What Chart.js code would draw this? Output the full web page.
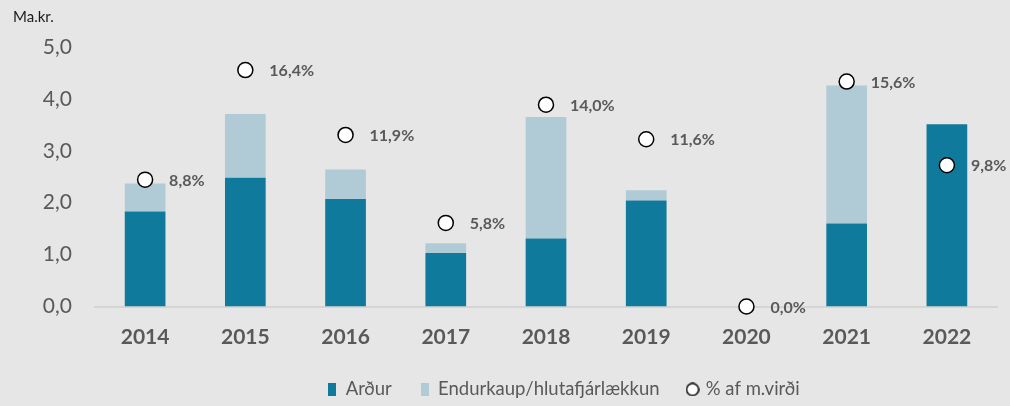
<!DOCTYPE html>
<html>
<head>
<meta charset="utf-8">
<script src="https://cdn.jsdelivr.net/npm/chart.js@4/dist/chart.umd.min.js"></script>
<style>
    body { margin: 0; background: #e6e6e6; }
    #wrap { width: 1010px; height: 406px; position: relative; }
</style>
</head>
<body>
<div id="wrap"><canvas id="myChart"></canvas></div>
<script>
// gögn lesin af myndinni
const years = ['2014', '2015', '2016', '2017', '2018', '2019', '2020', '2021', '2022'];
const ardur = [1.83, 2.48, 2.07, 1.03, 1.31, 2.04, 0, 1.60, 3.51];
const endurkaup = [0.54, 1.23, 0.57, 0.19, 2.34, 0.20, 0, 2.66, 0];
const hlutfall = [8.8, 16.4, 11.9, 5.8, 14.0, 11.6, 0.0, 15.6, 9.8];
const yTicks = [0, 1, 2, 3, 4, 5];

const dark = '#0f7a9b';
const light = '#b0cbd5';
const grey = '#595959';

function comma(v, d) {
    return v.toFixed(d).replace('.', ',');
}

// small canvases for the legend markers
function rectMarker(color) {
    let c = document.createElement('canvas');
    c.width = 8; c.height = 13;
    let g = c.getContext('2d');
    g.fillStyle = color;
    g.fillRect(0, 0, 8, 13);
    return c;
}
function circleMarker() {
    let c = document.createElement('canvas');
    c.width = 14; c.height = 14;
    let g = c.getContext('2d');
    g.beginPath();
    g.arc(7, 7, 6, 0, Math.PI * 2);
    g.fillStyle = '#ffffff';
    g.fill();
    g.lineWidth = 1.5;
    g.strokeStyle = '#000000';
    g.stroke();
    return c;
}
const markers = [rectMarker(dark), rectMarker(light), circleMarker()];

const pointLabels = {
    id: 'pointLabels',
    afterDatasetsDraw(chart) {
        let ctx = chart.ctx;
        let meta = chart.getDatasetMeta(2);
        ctx.save();
        ctx.font = 'bold 16px Lato';
        ctx.fillStyle = grey;
        ctx.textAlign = 'left';
        ctx.textBaseline = 'middle';
        meta.data.forEach(function (pt, i) {
            ctx.fillText(comma(hlutfall[i], 1) + '%', pt.x + 24, pt.y + 1);
        });
        ctx.restore();
    }
};

// move the legend to where the original has it
const legendShift = {
    id: 'legendShift',
    afterLayout(chart) {
        let lg = chart.legend;
        let dy = 390 - (lg.top + 28 + 10.8);
        lg.left += 59;
        lg.right += 59;
        lg.top += dy;
        lg.bottom += dy;
    }
};

let ctx = document.getElementById('myChart').getContext('2d');

let chart = new Chart(ctx, {
    type: 'bar',
    data: {
        labels: years,
        datasets: [{
            label: 'Arður',
            data: ardur,
            backgroundColor: dark,
            borderWidth: 0,
            order: 1,
            yAxisID: 'y'
        }, {
            label: 'Endurkaup/hlutafjárlækkun',
            data: endurkaup,
            backgroundColor: light,
            borderWidth: 0,
            order: 1,
            yAxisID: 'y'
        }, {
            type: 'line',
            label: '% af m.virði',
            data: hlutfall,
            showLine: false,
            pointRadius: 7.5,
            pointBackgroundColor: '#ffffff',
            pointBorderColor: '#000000',
            pointBorderWidth: 1.5,
            order: 0,
            clip: false,
            yAxisID: 'y1'
        }]
    },
    options: {
        responsive: true,
        maintainAspectRatio: false,
        animation: false,
        barPercentage: 0.406,
        categoryPercentage: 1,
        layout: { padding: { left: 13, right: 13, top: 0, bottom: 0 } },
        plugins: {
            tooltip: { enabled: false },
            title: {
                display: true,
                text: 'Ma.kr.',
                align: 'start',
                color: '#1a1a1a',
                font: { family: 'Lato', size: 15, weight: 'normal' },
                padding: { top: 8, bottom: 21 }
            },
            legend: {
                position: 'bottom',
                labels: {
                    usePointStyle: true,
                    boxWidth: 8,
                    boxHeight: 13,
                    padding: 29,
                    color: grey,
                    font: { family: 'Lato', size: 18.5 },
                    generateLabels: function (chart) {
                        return chart.data.datasets.map(function (ds, i) {
                            return {
                                text: ds.label,
                                pointStyle: markers[i],
                                fillStyle: 'transparent',
                                strokeStyle: 'transparent',
                                lineWidth: 0,
                                fontColor: grey,
                                hidden: false,
                                datasetIndex: i
                            };
                        });
                    }
                }
            }
        },
        scales: {
            x: {
                stacked: true,
                grid: { display: false, drawTicks: false },
                border: { display: true, color: '#d5d5d5', width: 2 },
                afterFit: function (scale) {
                    scale.height = 42;
                },
                ticks: {
                    padding: 18,
                    color: grey,
                    font: { family: 'Lato', size: 21, weight: 'bold' }
                }
            },
            y: {
                stacked: true,
                min: 0,
                max: 5,
                grid: { display: false, drawTicks: false },
                border: { display: false },
                afterBuildTicks: function (scale) {
                    scale.ticks = yTicks.map(function (v) { return { value: v }; });
                },
                afterFit: function (scale) {
                    scale.width = 82;
                },
                ticks: {
                    padding: 23,
                    color: grey,
                    font: { family: 'Lato', size: 21 },
                    callback: function (v) { return comma(v, 1); }
                }
            },
            y1: {
                display: false,
                position: 'right',
                min: 0,
                max: 18,
                stacked: false
            }
        }
    },
    plugins: [pointLabels, legendShift]
});
</script>
</body>
</html>
